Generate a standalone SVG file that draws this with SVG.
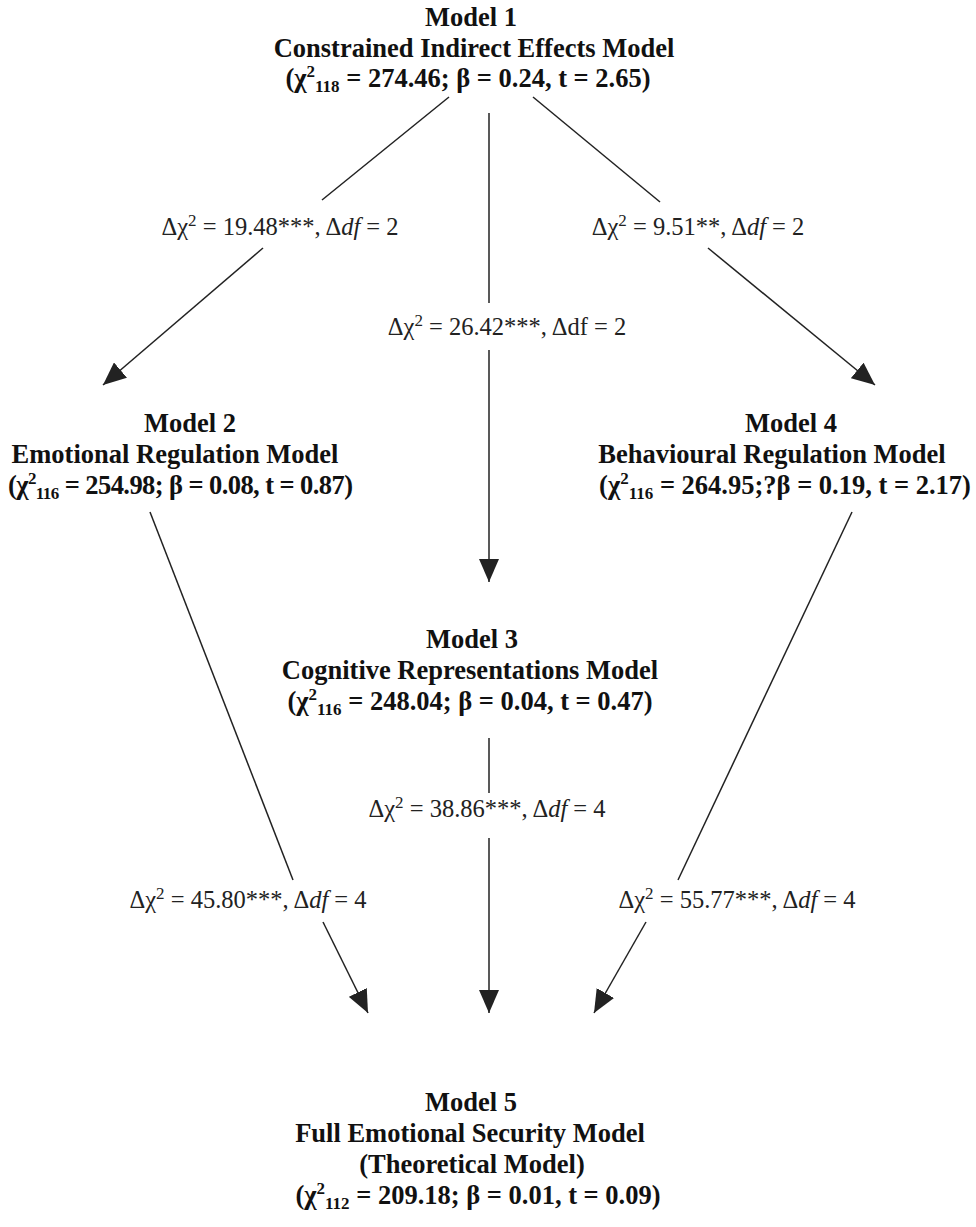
<svg xmlns="http://www.w3.org/2000/svg" width="976" height="1227" viewBox="0 0 976 1227">
<defs>
<style>
.t{font-family:"Liberation Serif","Times New Roman",serif;font-weight:bold;font-size:26.5px;fill:#111;text-anchor:middle}
.l{font-family:"Liberation Serif","Times New Roman",serif;font-size:24.5px;fill:#222;text-anchor:middle}
.s{font-size:17px}
.c{stroke:#222;stroke-width:1.5;fill:none}
</style>
<marker id="ah" markerUnits="userSpaceOnUse" markerWidth="24" markerHeight="20" refX="23" refY="10" orient="auto" viewBox="0 0 24 20">
<path d="M0,0 L23,10 L0,20 z" fill="#222"/>
</marker>
</defs>
<rect width="976" height="1227" fill="#fff"/>
<g id="connectors">
<line class="c" x1="449" y1="97" x2="322" y2="200"/>
<line class="c" x1="263" y1="248" x2="103" y2="385" marker-end="url(#ah)"/>
<line class="c" x1="489" y1="113" x2="489" y2="303"/>
<line class="c" x1="489" y1="350" x2="489" y2="582" marker-end="url(#ah)"/>
<line class="c" x1="533" y1="97" x2="660" y2="202"/>
<line class="c" x1="708" y1="248" x2="875" y2="385" marker-end="url(#ah)"/>
<line class="c" x1="150" y1="512" x2="293" y2="880"/>
<line class="c" x1="323" y1="922" x2="368" y2="1013" marker-end="url(#ah)"/>
<line class="c" x1="489" y1="738" x2="489" y2="793"/>
<line class="c" x1="489" y1="838" x2="489" y2="1013" marker-end="url(#ah)"/>
<line class="c" x1="852" y1="512" x2="678" y2="880"/>
<line class="c" x1="646" y1="922" x2="594" y2="1013" marker-end="url(#ah)"/>
<text class="l" x="280" y="235">Δχ<tspan class="s" dy="-9">2</tspan><tspan dy="9"> = 19.48***, Δ</tspan><tspan font-style="italic">df</tspan> = 2</text>
<text class="l" x="698" y="235">Δχ<tspan class="s" dy="-9">2</tspan><tspan dy="9"> = 9.51**, Δ</tspan><tspan font-style="italic">df</tspan> = 2</text>
<text class="l" x="507" y="335">Δχ<tspan class="s" dy="-9">2</tspan><tspan dy="9"> = 26.42***, Δdf = 2</tspan></text>
<text class="l" x="487" y="817">Δχ<tspan class="s" dy="-9">2</tspan><tspan dy="9"> = 38.86***, Δ</tspan><tspan font-style="italic">df</tspan> = 4</text>
<text class="l" x="248" y="908">Δχ<tspan class="s" dy="-9">2</tspan><tspan dy="9"> = 45.80***, Δ</tspan><tspan font-style="italic">df</tspan> = 4</text>
<text class="l" x="737" y="908">Δχ<tspan class="s" dy="-9">2</tspan><tspan dy="9"> = 55.77***, Δ</tspan><tspan font-style="italic">df</tspan> = 4</text>
</g>
<g id="model1">
<text class="t" x="471" y="26">Model 1</text>
<text class="t" x="474" y="57">Constrained Indirect Effects Model</text>
<text class="t" x="468" y="87">(χ<tspan class="s" dy="-10">2</tspan><tspan class="s" dy="15">118</tspan><tspan dy="-5"> = 274.46; β = 0.24, t = 2.65)</tspan></text>
</g>
<g id="model2">
<text class="t" x="190" y="432">Model 2</text>
<text class="t" x="175" y="463">Emotional Regulation Model</text>
<text class="t" x="8" y="494" style="text-anchor:start" textLength="345" lengthAdjust="spacing">(χ<tspan class="s" dy="-10">2</tspan><tspan class="s" dy="15">116</tspan><tspan dy="-5"> = 254.98; β = 0.08, t = 0.87)</tspan></text>
</g>
<g id="model4">
<text class="t" x="791" y="432">Model 4</text>
<text class="t" x="772" y="463">Behavioural Regulation Model</text>
<text class="t" x="785" y="494">(χ<tspan class="s" dy="-10">2</tspan><tspan class="s" dy="15">116</tspan><tspan dy="-5"> = 264.95;?β = 0.19, t = 2.17)</tspan></text>
</g>
<g id="model3">
<text class="t" x="472" y="648">Model 3</text>
<text class="t" x="470" y="679">Cognitive Representations Model</text>
<text class="t" x="470" y="710">(χ<tspan class="s" dy="-10">2</tspan><tspan class="s" dy="15">116</tspan><tspan dy="-5"> = 248.04; β = 0.04, t = 0.47)</tspan></text>
</g>
<g id="model5">
<text class="t" x="471" y="1111">Model 5</text>
<text class="t" x="470" y="1142">Full Emotional Security Model</text>
<text class="t" x="472" y="1173">(Theoretical Model)</text>
<text class="t" x="478" y="1204">(χ<tspan class="s" dy="-10">2</tspan><tspan class="s" dy="15">112</tspan><tspan dy="-5"> = 209.18; β = 0.01, t = 0.09)</tspan></text>
</g>
</svg>
